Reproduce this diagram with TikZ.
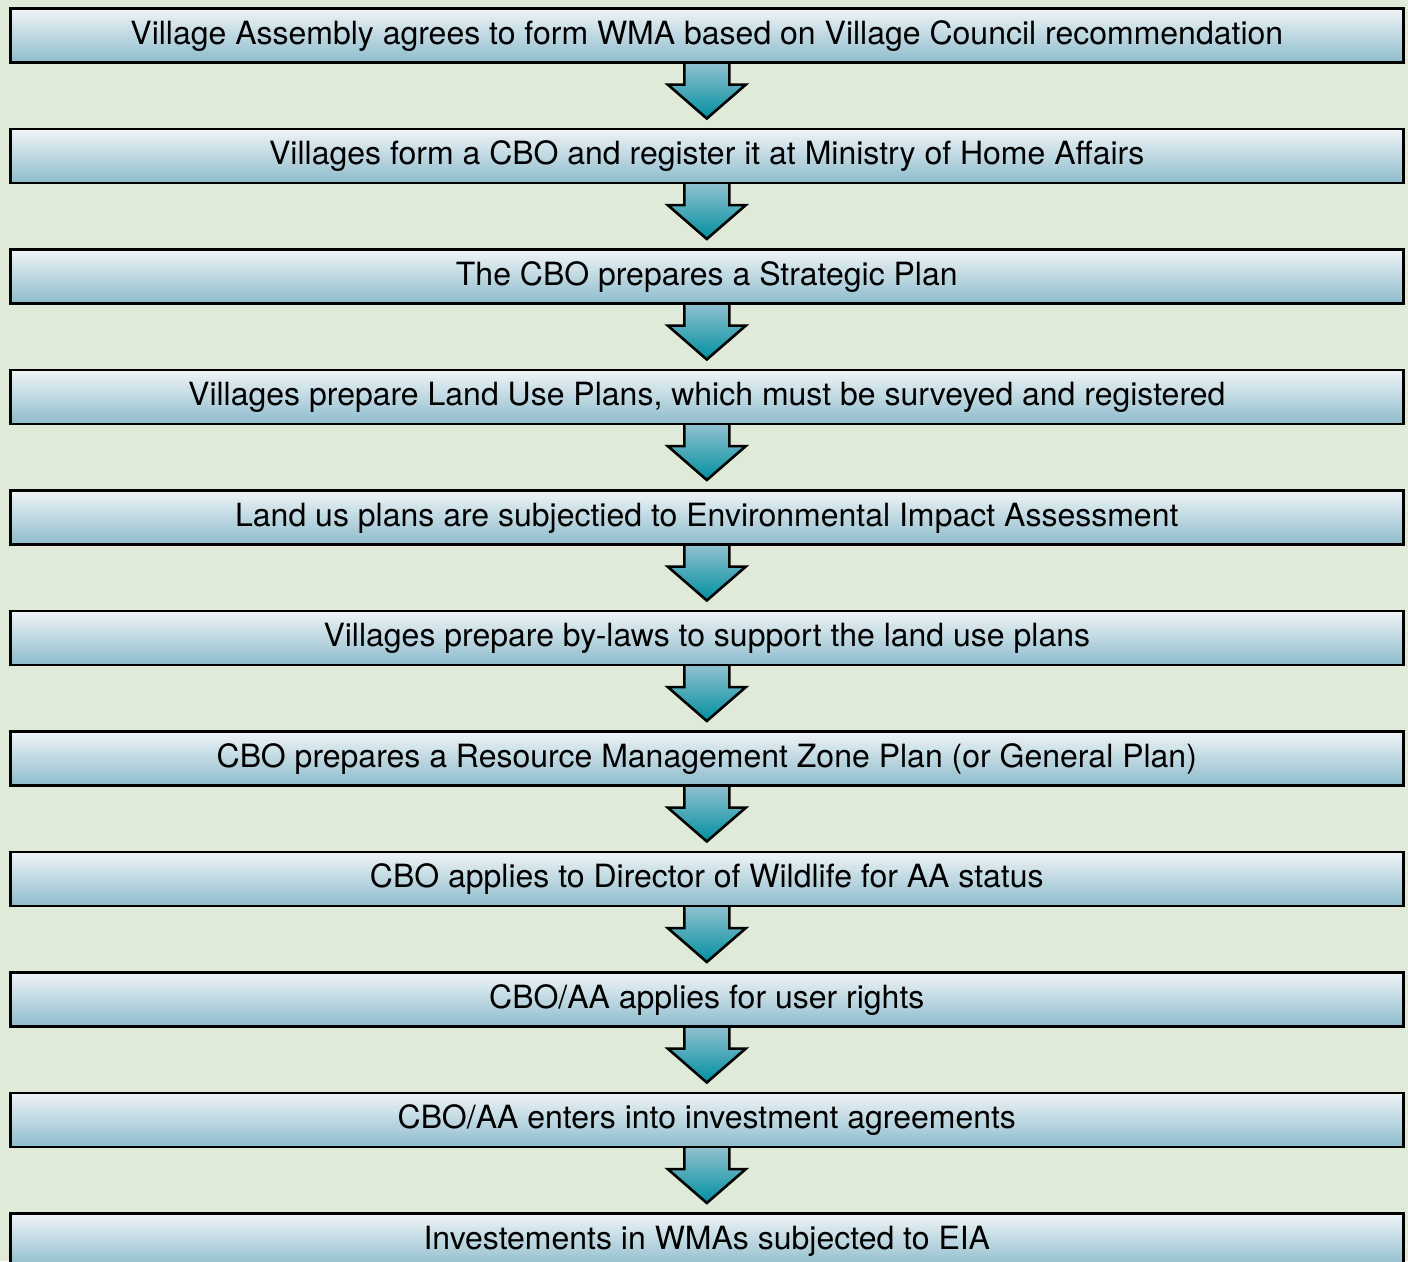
\documentclass[tikz,border=0pt]{standalone}
\usepackage{fontspec}
\setmainfont{TeX Gyre Heros}
\usetikzlibrary{calc}
\definecolor{bgc}{HTML}{E0EAD9}
\definecolor{boxtop}{HTML}{F0F4F7}
\definecolor{boxbot}{HTML}{8DBCCC}
\definecolor{arrtop}{HTML}{94C2D0}
\definecolor{arrbot}{HTML}{008FA0}
\pgfdeclarelayer{bg}
\pgfsetlayers{bg,main}
\newcommand\flowarr[2]{%
  \begin{pgfonlayer}{bg}
  \path[flowarrow] ($(#1.south)+(-22.5,-2)$) -- ($(#1.south)+(-22.5,21)$) -- ($(#1.south)+(-39,21)$)
    -- ($(#2.north)+(0,-9)$) -- ($(#1.south)+(39,21)$) -- ($(#1.south)+(22.5,21)$)
    -- ($(#1.south)+(22.5,-2)$) -- cycle;
  \end{pgfonlayer}}
\begin{document}
\begin{tikzpicture}[x=1pt,y=-1pt,
  stepbox/.style={draw=black, line width=2.6pt, top color=boxtop, bottom color=boxbot,
    minimum width=1393pt, minimum height=54pt, inner sep=0pt, anchor=north west,
    text height=24pt, text depth=6pt, font=\fontsize{32}{38}\selectfont},
  flowarrow/.style={draw=black, line width=2.6pt, line join=miter, top color=arrtop, bottom color=arrbot}]
\begin{pgfonlayer}{bg}
\fill[bgc] (0,0) rectangle (1408,1261);
\end{pgfonlayer}
\useasboundingbox (0,0) rectangle (1408,1261);
\clip (0,0) rectangle (1408,1261);
\node[stepbox] (b1) at (9,7) {Village Assembly agrees to form WMA based on Village Council recommendation};
\node[stepbox] (b2) at (9,127.5) {Villages form a CBO and register it at Ministry of Home Affairs};
\node[stepbox] (b3) at (9,248) {The CBO prepares a Strategic Plan};
\node[stepbox] (b4) at (9,368.5) {Villages prepare Land Use Plans, which must be surveyed and registered};
\node[stepbox] (b5) at (9,489) {Land us plans are subjectied to Environmental Impact Assessment};
\node[stepbox] (b6) at (9,609.5) {Villages prepare by-laws to support the land use plans};
\node[stepbox] (b7) at (9,730) {CBO prepares a Resource Management Zone Plan (or General Plan)};
\node[stepbox] (b8) at (9,850.5) {CBO applies to Director of Wildlife for AA status};
\node[stepbox] (b9) at (9,971) {CBO/AA applies for user rights};
\node[stepbox] (b10) at (9,1091.5) {CBO/AA enters into investment agreements};
\node[stepbox] (b11) at (9,1212) {Investements in WMAs subjected to EIA};
\flowarr{b1}{b2}
\flowarr{b2}{b3}
\flowarr{b3}{b4}
\flowarr{b4}{b5}
\flowarr{b5}{b6}
\flowarr{b6}{b7}
\flowarr{b7}{b8}
\flowarr{b8}{b9}
\flowarr{b9}{b10}
\flowarr{b10}{b11}
\end{tikzpicture}
\end{document}
